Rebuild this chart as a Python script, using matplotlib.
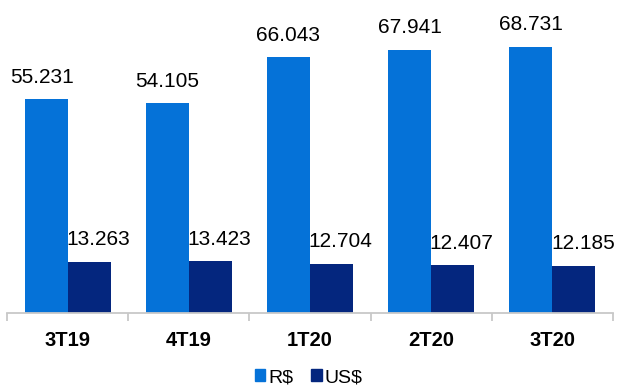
import numpy as np
import matplotlib.pyplot as plt
from matplotlib.patches import Patch

plt.rcParams['font.family'] = ['Liberation Sans', 'DejaVu Sans']

trimestres = ["3T19", "4T19", "1T20", "2T20", "3T20"]
receita_brl = [55.231, 54.105, 66.043, 67.941, 68.731]
receita_usd = [13.263, 13.423, 12.704, 12.407, 12.185]

COR_BRL = "#0572D8"
COR_USD = "#04267E"

fig = plt.figure(figsize=(6.17, 3.90), dpi=100)
ax = fig.add_axes([0.0113, 0.197, 0.982, 0.803])

x = np.arange(len(trimestres))
larg = 0.355
ax.bar(x - larg / 2, receita_brl, larg, color=COR_BRL)
ax.bar(x + larg / 2, receita_usd, larg, color=COR_USD)

def fmt(v):
    return f"{v:.3f}"

for i, v in enumerate(receita_brl):
    ax.annotate(fmt(v), (x[i] - larg / 2, v), xytext=(-3 if i == 0 else 0, 9),
                textcoords="offset points", ha="center", va="bottom", fontsize=15)
for i, v in enumerate(receita_usd):
    ax.annotate(fmt(v), (x[i] + larg / 2, v), xytext=(6.5, 9),
                textcoords="offset points", ha="center", va="bottom", fontsize=15)

ax.set_xlim(-0.5, len(trimestres) - 0.5)
ax.set_ylim(0, 80.8)
ax.set_yticks([])
for s in ["top", "right", "left"]:
    ax.spines[s].set_visible(False)
ax.spines["bottom"].set_color("#C8C8C8")
ax.spines["bottom"].set_linewidth(1.3)

# marcas entre as categorias
ax.set_xticks(np.arange(-0.5, len(trimestres)), minor=True)
ax.tick_params(axis="x", which="minor", length=6, color="#C8C8C8", width=1.3)
ax.set_xticks(x)
ax.set_xticklabels(trimestres, fontweight="bold", fontsize=14.5)
ax.tick_params(axis="x", which="major", length=0, pad=13)

handles = [Patch(color=COR_BRL, label="R$"), Patch(color=COR_USD, label="US$")]
fig.legend(handles=handles, loc="lower center", bbox_to_anchor=(0.5, -0.035), ncol=2,
           frameon=False, fontsize=14, handlelength=0.55, handleheight=0.55,
           handletextpad=0.15, columnspacing=0.9)

fig.savefig("out.png", dpi=100)
